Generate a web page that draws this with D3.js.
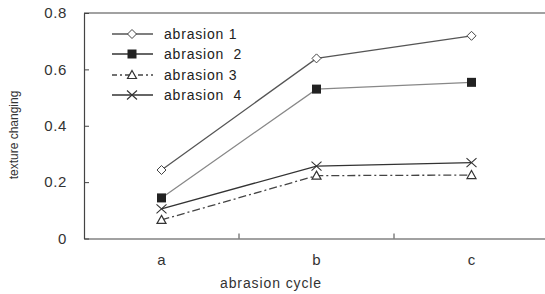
<!DOCTYPE html>
<html><head><meta charset="utf-8">
<script src="https://cdn.jsdelivr.net/npm/d3@7"></script>
<style>body{margin:0;background:#fff;} svg{display:block;font-family:"Liberation Sans",Arial,sans-serif;}</style>
</head><body>
<script>
const categories = ["a", "b", "c"];
const seriesNames = ["abrasion 1", "abrasion  2", "abrasion 3", "abrasion  4"];
const abrasion1 = [0.243, 0.639, 0.719];
const abrasion2 = [0.144, 0.530, 0.554];
const abrasion3 = [0.066, 0.223, 0.225];
const abrasion4 = [0.105, 0.257, 0.269];
const yTicks = [0, 0.2, 0.4, 0.6, 0.8];
const yTickLabels = ["0", "0.2", "0.4", "0.6", "0.8"];

const W = 545, H = 294;
const m = {left: 84, top: 13, right: 549, bottom: 238.5};
const svg = d3.select("body").append("svg").attr("width", W).attr("height", H);

const x = d3.scaleBand().domain(categories).range([m.left, m.right]);
const y = d3.scaleLinear().domain([0, 0.8]).range([m.bottom, m.top]);

svg.append("line").attr("x1", m.left).attr("x2", W).attr("y1", m.top).attr("y2", m.top)
  .attr("stroke", "#444").attr("stroke-width", 1.2);

const yAxis = d3.axisLeft(y).tickValues(yTicks).tickSizeInner(-5).tickSizeOuter(0)
  .tickFormat((d, i) => yTickLabels[i]).tickPadding(17);
const gy = svg.append("g").attr("transform", `translate(${m.left},0)`).call(yAxis);
gy.select(".domain").attr("stroke", "#444").attr("stroke-width", 1.2);
gy.selectAll(".tick line").attr("stroke", "#444");
gy.selectAll(".tick text").attr("font-size", 15).attr("fill", "#333").attr("letter-spacing", 0.6);

const xAxis = d3.axisBottom(x).tickSize(0).tickPadding(16);
const gx = svg.append("g").attr("transform", `translate(0,${m.bottom})`).call(xAxis);
gx.select(".domain").attr("stroke", "#444").attr("stroke-width", 1.2);
gx.selectAll(".tick text").attr("font-size", 15).attr("fill", "#333");
const bounds = categories.slice(1).map(c => x(c));
svg.selectAll(".xb").data(bounds).enter().append("line")
  .attr("x1", d => d).attr("x2", d => d).attr("y1", m.bottom).attr("y2", m.bottom - 5)
  .attr("stroke", "#444");

svg.append("text").attr("x", 271).attr("y", 288).attr("text-anchor", "middle")
  .attr("font-size", 14).attr("letter-spacing", 0.9).attr("fill", "#333").text("abrasion cycle");
svg.append("text").attr("transform", "translate(18,135) rotate(-90)").attr("text-anchor", "middle")
  .attr("font-size", 12).attr("fill", "#333").text("texture changing");

const series = [
  {name: seriesNames[0], values: abrasion1, stroke: "#555", dash: null, marker: "diamond"},
  {name: seriesNames[1], values: abrasion2, stroke: "#888", dash: null, marker: "square"},
  {name: seriesNames[2], values: abrasion3, stroke: "#444", dash: "8,3,2,3", marker: "triangle"},
  {name: seriesNames[3], values: abrasion4, stroke: "#333", dash: null, marker: "cross"}
];
const cx = c => x(c) + x.bandwidth() / 2;
const line = d3.line().x(d => cx(d.c)).y(d => y(d.v));

function drawMarker(g, type, px, py) {
  if (type === "diamond") {
    g.append("path").attr("d", `M${px},${py-4.5}L${px+4.5},${py}L${px},${py+4.5}L${px-4.5},${py}Z`)
      .attr("fill", "#fff").attr("stroke", "#444").attr("stroke-width", 1);
  } else if (type === "square") {
    g.append("rect").attr("x", px-4.5).attr("y", py-4.5).attr("width", 9).attr("height", 9)
      .attr("fill", "#222");
  } else if (type === "triangle") {
    g.append("path").attr("d", `M${px},${py-4.5}L${px+4.5},${py+3.5}L${px-4.5},${py+3.5}Z`)
      .attr("fill", "#fff").attr("stroke", "#333").attr("stroke-width", 1.2);
  } else {
    g.append("path").attr("d", `M${px-5},${py-4.5}L${px+5},${py+4.5}M${px-5},${py+4.5}L${px+5},${py-4.5}`)
      .attr("stroke", "#333").attr("stroke-width", 1.1).attr("fill", "none");
  }
}

series.forEach(s => {
  const pts = categories.map((c, i) => ({c, v: s.values[i]}));
  const g = svg.append("g");
  g.append("path").datum(pts).attr("d", line).attr("fill", "none")
    .attr("stroke", s.stroke).attr("stroke-width", 1.3).attr("stroke-dasharray", s.dash);
  pts.forEach(p => drawMarker(g, s.marker, cx(p.c), y(p.v)));
});

const legY = [34, 54, 75, 95];
series.forEach((s, i) => {
  const g = svg.append("g");
  g.append("line").attr("x1", 112).attr("x2", 153).attr("y1", legY[i]).attr("y2", legY[i])
    .attr("stroke", s.stroke === "#888" ? "#333" : s.stroke).attr("stroke-width", 1.3)
    .attr("stroke-dasharray", s.dash ? "5,3,2,3" : null);
  drawMarker(g, s.marker, 132, legY[i]);
  g.append("text").attr("x", 164).attr("y", legY[i] + 5).attr("font-size", 14)
    .attr("letter-spacing", 0.8)
    .attr("fill", "#222").attr("xml:space", "preserve").style("white-space", "pre").text(s.name);
});
</script>
</body></html>
